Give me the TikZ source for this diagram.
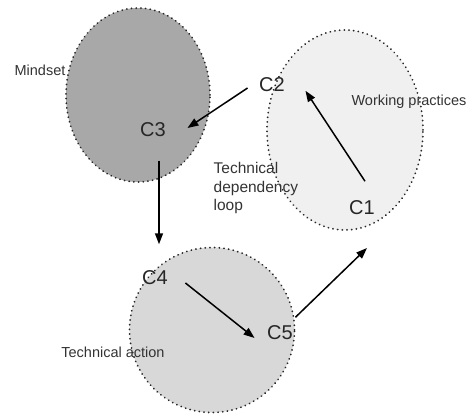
\documentclass[tikz,border=0pt]{standalone}
\usepackage{fontspec}
\setmainfont{Liberation Sans}
\usepackage{tikz}
\usetikzlibrary{positioning,calc}
\usetikzlibrary{arrows.meta}
\usetikzlibrary{shapes.geometric}
\definecolor{mindgray}{HTML}{A8A8A8}
\definecolor{workgray}{HTML}{F0F0F0}
\definecolor{actgray}{HTML}{D8D8D8}
\begin{document}
\begin{tikzpicture}[x=1pt,y=1pt,line width=1.3pt,
    blob/.style={ellipse,draw=black!85,line width=1.9pt,dash pattern=on 0.1pt off 4.6pt,line cap=round,inner sep=0pt},
    cpt/.style={inner sep=1pt,font=\fontsize{20}{22}\selectfont,text=black!85},
    lbl/.style={inner sep=1pt,font=\fontsize{14.5}{18}\selectfont,text=black!80},
    arr/.style={-{Triangle[length=11pt,width=8pt]},line width=1.5pt},
    ]
\useasboundingbox (0,0) rectangle (468,416);

\node[blob,fill=mindgray,minimum width=144,minimum height=174] (mindset) at (138,321) {}; % mindset
\node[blob,fill=workgray,minimum width=156,minimum height=200] (practices) at (345,286) {}; % working practices
\node[blob,fill=actgray,minimum width=165,minimum height=165] (action) at (212,86) {}; % technical action

\node[lbl] (lmind) at (40,346) {Mindset};
\node[lbl] (lwork) at (409,314) {Working practices};
\node[lbl] (laction) at (113,64) {Technical action};
\node[lbl,anchor=west,align=left,font=\fontsize{15.5}{18.5}\selectfont] (lloop) at (212,228) {Technical\\dependency\\loop};

\node[cpt] (c1) at (362,208) {C1};
\node[cpt] (c2) at (272,331) {C2};
\node[cpt] (c3) at (153,286) {C3};
\node[cpt] (c4) at (155,138) {C4};
\node[cpt] (c5) at (280,83) {C5};
\coordinate (towork) at (367,168);

\draw[arr] ([shift={(3,18)}]c1.north) -- ([shift={(19,3)}]c2.south east); % c1 to c2
\draw[arr] ([shift={(-10,-3)}]c2.west) -- ([shift={(20,2)}]c3.east); % c2 to c3
\draw[arr] ([shift={(6,-22)}]c3.south) -- ([shift={(4,25)}]c4.north); % c3 to c4
\draw[arr] ([shift={(16,-5)}]c4.east) -- ([shift={(-11,-5)}]c5.west); % c4 to c5
\draw[arr] ([shift={(1,7)}]c5.north east) -- (towork); % back to practices
\end{tikzpicture}
\end{document}
